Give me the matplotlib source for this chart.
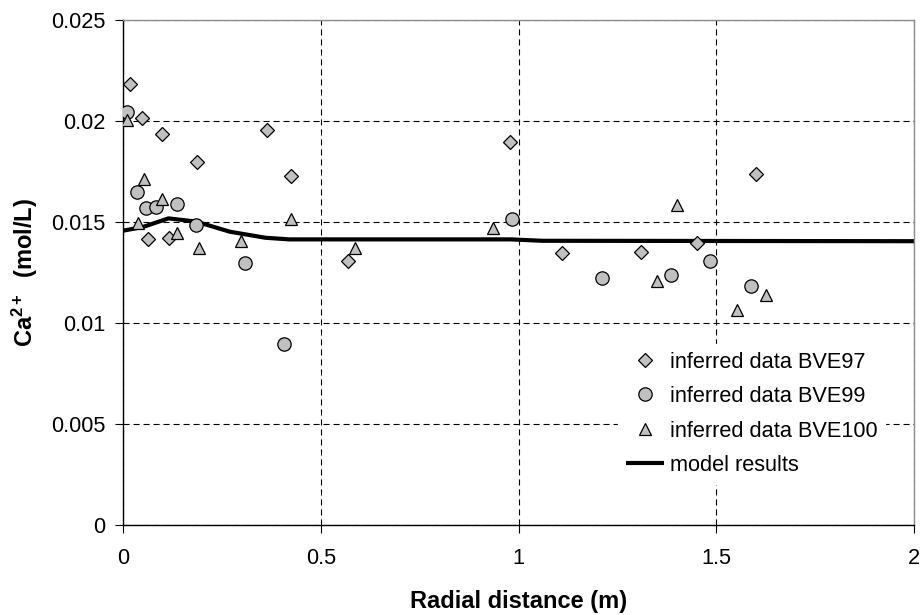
import matplotlib
matplotlib.use("Agg")
import matplotlib.pyplot as plt
from matplotlib.ticker import FixedLocator, FuncFormatter

plt.rcParams['font.family'] = ['Liberation Sans', 'DejaVu Sans']
plt.rcParams['mathtext.fontset'] = 'custom'
plt.rcParams['mathtext.rm'] = 'Liberation Sans'
plt.rcParams['mathtext.bf'] = 'Liberation Sans:bold'

# ---- data ----
bve97_x = [0.018, 0.049, 0.064, 0.099, 0.116, 0.187, 0.363, 0.425, 0.568, 0.979, 1.109, 1.310, 1.452, 1.600]
bve97_y = [0.02183, 0.02016, 0.01416, 0.01936, 0.01419, 0.01797, 0.01955, 0.01729, 0.01307, 0.01895, 0.01345, 0.01353, 0.01398, 0.01738]

bve99_x = [0.009, 0.036, 0.057, 0.084, 0.136, 0.185, 0.308, 0.408, 0.984, 1.212, 1.385, 1.484, 1.588]
bve99_y = [0.02043, 0.01650, 0.01568, 0.01576, 0.01590, 0.01485, 0.01297, 0.00896, 0.01515, 0.01223, 0.01236, 0.01305, 0.01183]

bve100_x = [0.009, 0.037, 0.053, 0.098, 0.137, 0.192, 0.298, 0.425, 0.587, 0.936, 1.351, 1.402, 1.552, 1.626]
bve100_y = [0.02005, 0.01493, 0.01713, 0.01614, 0.01444, 0.01373, 0.01408, 0.01515, 0.01373, 0.01472, 0.01208, 0.01584, 0.01064, 0.01139]

model_x = [0.0, 0.05, 0.115, 0.185, 0.27, 0.36, 0.42, 0.98, 1.06, 2.0]
model_y = [0.01457, 0.01475, 0.01518, 0.01502, 0.01452, 0.01422, 0.01414, 0.01414, 0.01407, 0.01405]

labels = ['inferred data BVE97', 'inferred data BVE99', 'inferred data BVE100', 'model results']
x_ticks = [0, 0.5, 1, 1.5, 2]
y_ticks = [0, 0.005, 0.01, 0.015, 0.02, 0.025]

# ---- figure ----
W, H = 923, 615
fig = plt.figure(figsize=(W / 100, H / 100), dpi=100)
ax = fig.add_axes([123 / W, 1 - 525 / H, (914 - 123) / W, (525 - 20) / H])

face = '#C0C0C0'
lm, = ax.plot(model_x, model_y, color='black', lw=3.0, zorder=2, solid_capstyle='butt')
l97, = ax.plot(bve97_x, bve97_y, ls='none', marker='D', ms=7.2, mfc=face, mec='black', mew=0.9, zorder=3)
l99, = ax.plot(bve99_x, bve99_y, ls='none', marker='o', ms=9.6, mfc=face, mec='black', mew=0.9, zorder=4)
l100, = ax.plot(bve100_x, bve100_y, ls='none', marker='^', ms=8.6, mfc=face, mec='black', mew=0.9, zorder=5)

ax.set_xlim(0, 2)
ax.set_ylim(0, 0.025)
ax.xaxis.set_major_locator(FixedLocator(x_ticks))
ax.yaxis.set_major_locator(FixedLocator(y_ticks))
fmt = FuncFormatter(lambda v, p: ('%g' % v))
ax.xaxis.set_major_formatter(fmt)
ax.yaxis.set_major_formatter(fmt)

ax.grid(True, color='black', lw=0.8, linestyle=(0, (5.5, 3.5)))
ax.set_axisbelow(True)

for s in ['left', 'bottom']:
    ax.spines[s].set_color('black')
    ax.spines[s].set_linewidth(1.0)
for s in ['top', 'right']:
    ax.spines[s].set_color('#8c8c8c')
    ax.spines[s].set_linewidth(1.0)

ax.tick_params(axis='both', direction='out', length=5.5, width=0.8, labelsize=15.7, colors='black')
ax.tick_params(axis='x', pad=11)
ax.tick_params(axis='y', pad=7)

ax.set_xlabel('Radial distance (m)', fontsize=17, fontweight='bold', labelpad=15)
ax.set_ylabel(r'$\mathbf{Ca^{2+}}$  (mol/L)', fontsize=17, fontweight='bold', labelpad=8)

leg = fig.legend([l97, l99, l100, lm], labels, loc='upper left',
                 bbox_to_anchor=(607 / W, 1 - 333 / H), fontsize=15.7,
                 frameon=True, fancybox=False, framealpha=1.0, edgecolor='white',
                 facecolor='white', handlelength=1.75, handletextpad=0.28,
                 labelspacing=0.62, borderpad=0.35, numpoints=1)
leg.set_zorder(10)

fig.savefig('out.png', dpi=100)
